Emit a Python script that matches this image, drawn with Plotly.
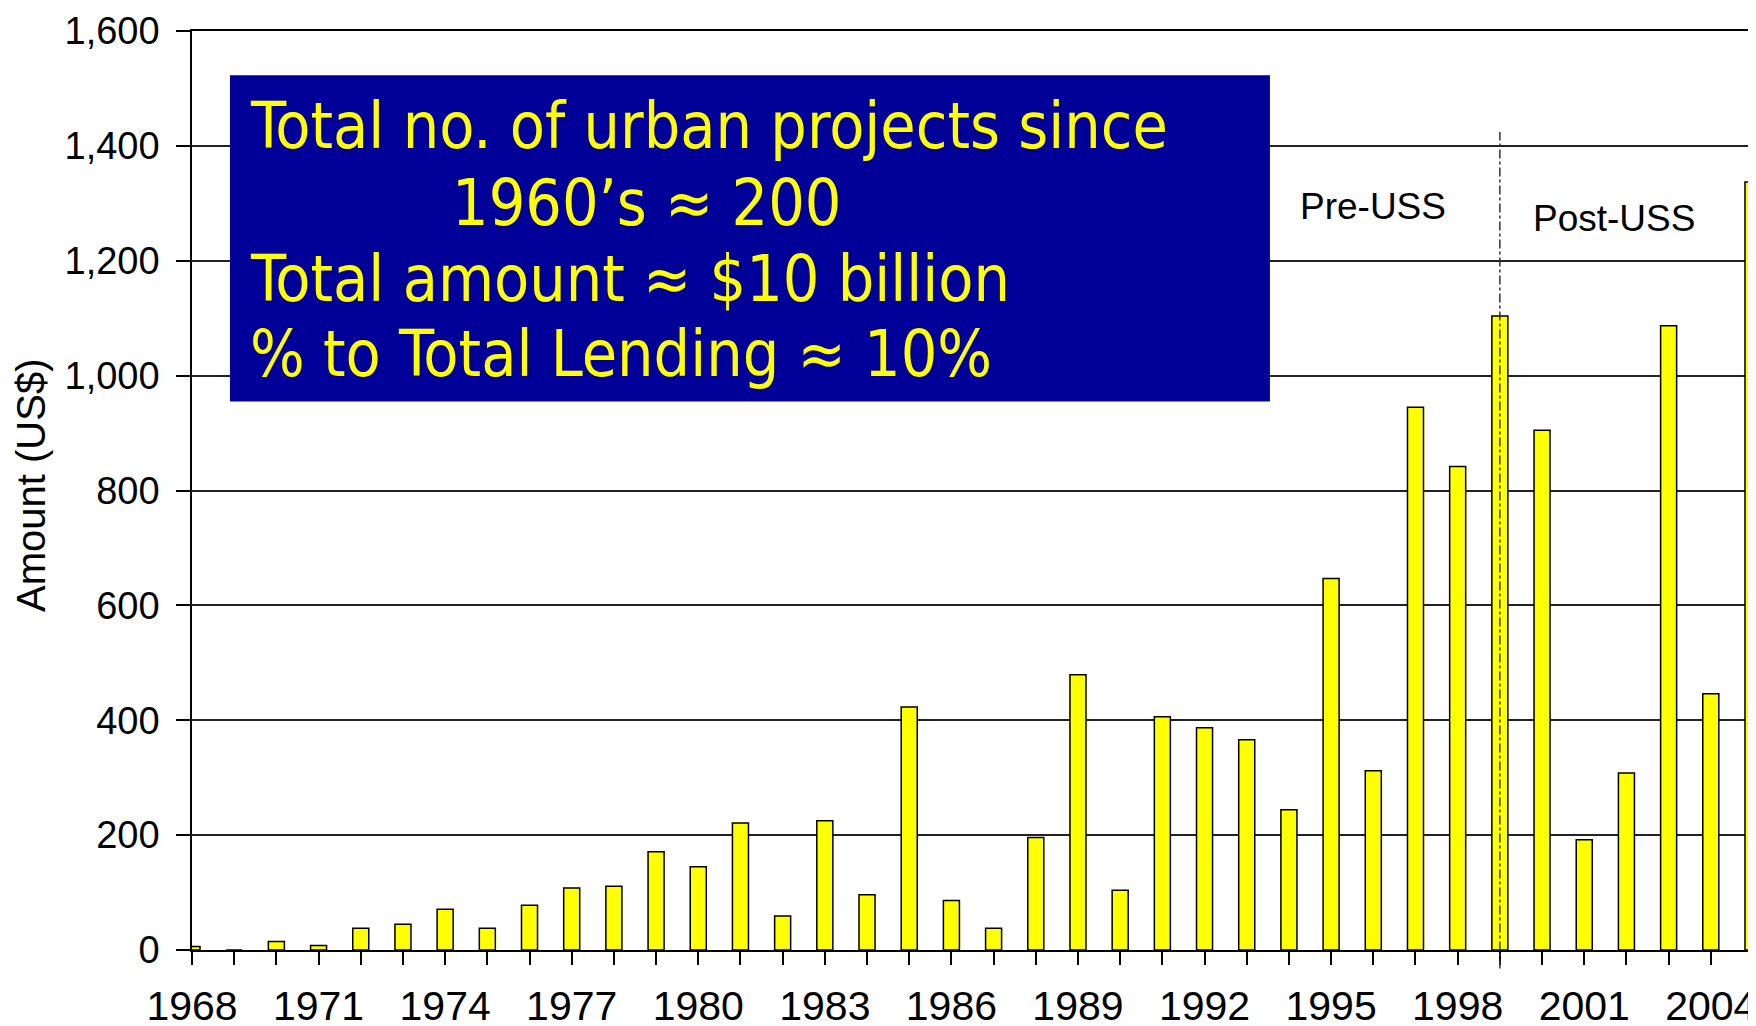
import plotly.graph_objects as go

# lending by year (US$ millions)
years = list(range(1968, 2006))
amount = [6, 0, 15, 8, 38, 45, 71, 38, 78, 108, 111, 171, 145, 221, 59, 225, 96, 423,
          86, 38, 196, 479, 104, 406, 387, 366, 244, 647, 312, 945, 842, 1104, 905,
          192, 308, 1087, 446, 1337]

tick_years = [1968, 1971, 1974, 1977, 1980, 1983, 1986, 1989, 1992, 1995, 1998, 2001, 2004]
y_ticks = [0, 200, 400, 600, 800, 1000, 1200, 1400, 1600]

box_lines = ["Total no. of urban projects since",
             "1960\u2019s \u2248 200",
             "Total amount \u2248 $10 billion",
             "% to Total Lending \u2248 10%"]
uss_year = 1999

fig = go.Figure()

fig.add_trace(go.Bar(x=years,
                     y=amount,
                     marker=dict(color="#FFFF00",
                                 line=dict(color="#000", width=1.5)),
                     showlegend=False))

# blue info box
fig.add_shape(type="rect", xref="x", yref="y",
              x0=1968.9, x1=1993.55, y0=955, y1=1523,
              fillcolor="#000099", line=dict(width=0), layer="above")

box_x = [1969.33, 1974.11, 1969.33, 1969.33]
box_y = [1434, 1301, 1169, 1037]
for txt, bx, by in zip(box_lines, box_x, box_y):
    fig.add_annotation(x=bx, y=by, xref="x", yref="y", text=txt,
                       showarrow=False, xanchor="left", yanchor="middle",
                       font=dict(family="DejaVu Sans Condensed, DejaVu Sans", size=64,
                                 color="#FFFF00"))

# pre / post USS divider
fig.add_shape(type="line", xref="x", yref="paper",
              x0=uss_year, x1=uss_year, y0=-0.02, y1=0.89,
              line=dict(color="#333", width=1.5, dash="dashdot"))

fig.add_annotation(x=1996.0, y=1294, text="Pre-USS", showarrow=False,
                   font=dict(family="Liberation Sans, Arial", size=37, color="#000"))
fig.add_annotation(x=2001.7, y=1274, text="Post-USS", showarrow=False,
                   font=dict(family="Liberation Sans, Arial", size=37, color="#000"))

# y axis title
fig.add_annotation(x=-0.1031, y=0.505, xref="paper", yref="paper",
                   xanchor="center", yanchor="middle",
                   text="Amount (US$)", textangle=-90, showarrow=False,
                   font=dict(family="Liberation Sans, Arial", size=40, color="#000"))

fig.update_layout(width=1756,
                  height=1026,
                  bargap=0.62,
                  plot_bgcolor="#fff",
                  paper_bgcolor="#fff",
                  font=dict(family="Liberation Sans, Arial", color="#000"),
                  margin=dict(l=184, r=11, t=23, b=84, autoexpand=False),
                  xaxis=dict(range=[1968, 2005],
                             automargin=False,
                             tickvals=tick_years,
                             ticktext=[str(y) for y in tick_years],
                             ticks="outside",
                             ticklen=13,
                             tickcolor="#000",
                             tickwidth=1.5,
                             showline=True,
                             linecolor="#000",
                             linewidth=1.5,
                             mirror=True,
                             showgrid=False,
                             zeroline=False,
                             ticklabelstandoff=6,
                             ticklabeloverflow="allow",
                             tickfont=dict(size=41),
                             minor=dict(tick0=1968, dtick=1, ticks="outside",
                                        ticklen=13, tickcolor="#000", tickwidth=1.5,
                                        showgrid=False)),
                  yaxis=dict(range=[0, 1600],
                             automargin=False,
                             tickvals=y_ticks,
                             tickformat=",",
                             ticks="outside",
                             ticklen=14,
                             tickcolor="#000",
                             tickwidth=1.5,
                             showline=True,
                             linecolor="#000",
                             linewidth=1.5,
                             mirror=True,
                             showgrid=True,
                             gridcolor="#222",
                             gridwidth=1.8,
                             zeroline=False,
                             ticklabelstandoff=9,
                             ticklabeloverflow="allow",
                             tickfont=dict(size=38)))

fig.write_html("out.html")
